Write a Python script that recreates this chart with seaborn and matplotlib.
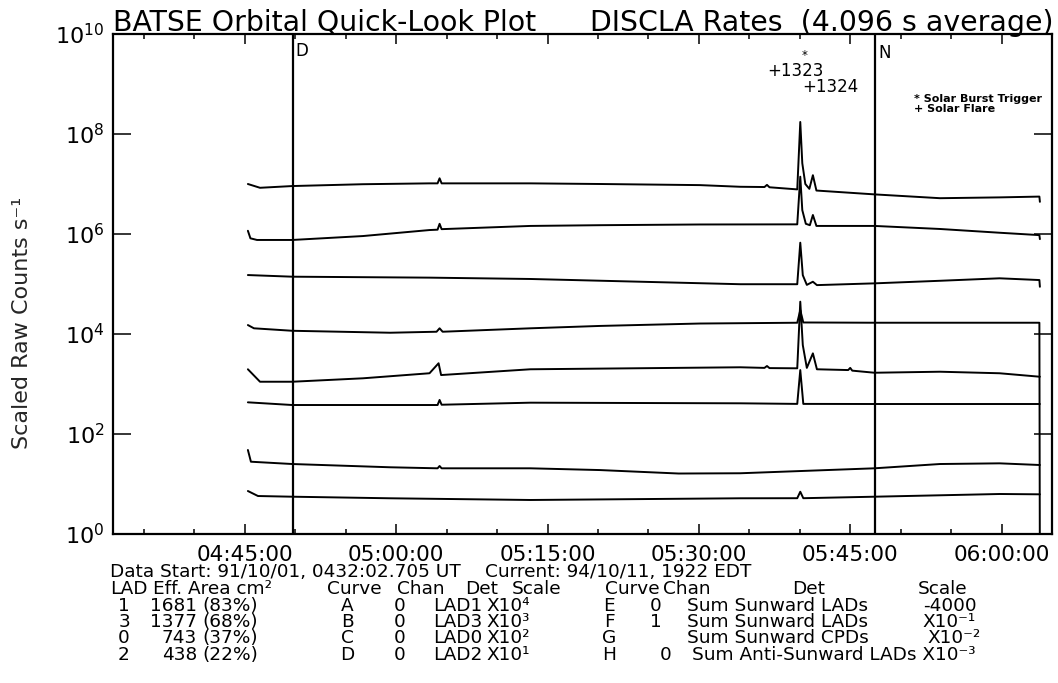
import matplotlib
matplotlib.use("Agg")
import matplotlib.pyplot as plt
from matplotlib.ticker import FixedLocator, FixedFormatter, NullLocator
import pandas as pd
import seaborn as sns

# ---------------------------------------------------------------- data
# time axis: minutes after 04:00:00 UT
time_A = [45.3, 46.5, 49.7, 56.7, 63.3, 64.1, 64.3, 64.5, 73.3, 80.2, 90.1, 94.1, 96.5, 96.75, 97.0,
          99.75, 100.05, 100.25, 100.55, 100.95, 101.3, 101.65, 107.4, 113.9, 119.8, 123.75, 123.8]
rate_A = [1.0e7, 8.4e6, 9.1e6, 9.9e6, 1.03e7, 1.03e7, 1.3e7, 1.03e7, 1.03e7, 1.0e7, 9.5e6, 8.8e6, 8.7e6, 9.6e6, 8.6e6,
          7.8e6, 1.74e8, 2.6e7, 1.0e7, 8.0e6, 1.5e7, 7.4e6, 6.2e6, 5.2e6, 5.4e6, 5.6e6, 4.4e6]

time_B = [45.3, 45.55, 46.2, 49.7, 56.7, 63.3, 64.1, 64.3, 64.5, 73.3, 80.2, 90.1, 99.75, 100.05, 100.25,
          100.6, 101.0, 101.3, 101.65, 107.4, 113.9, 119.8, 123.75, 123.8]
rate_B = [1.16e6, 8.2e5, 7.6e5, 7.6e5, 9.1e5, 1.2e6, 1.22e6, 1.6e6, 1.25e6, 1.45e6, 1.5e6, 1.55e6, 1.56e6, 1.4e7, 3.0e6,
          1.6e6, 1.5e6, 2.4e6, 1.45e6, 1.45e6, 1.26e6, 1.06e6, 9.5e5, 7.9e5]

time_C = [45.3, 49.7, 63.3, 73.3, 94.1, 99.75, 100.05, 100.3, 100.7, 101.3, 101.7, 107.4, 113.9, 119.8, 123.75, 123.8]
rate_C = [1.51e5, 1.4e5, 1.34e5, 1.26e5, 9.9e4, 9.9e4, 6.7e5, 1.5e5, 9.6e4, 1.11e5, 9.5e4, 1.03e5, 1.16e5, 1.3e5, 1.2e5, 8.8e4]

time_D = [45.3, 45.9, 49.7, 59.4, 64.0, 64.3, 64.6, 73.3, 80.2, 90.1, 99.75, 100.05, 100.35, 107.4, 123.75, 123.8]
rate_D = [1.51e4, 1.3e4, 1.16e4, 1.06e4, 1.11e4, 1.3e4, 1.11e4, 1.3e4, 1.45e4, 1.62e4, 1.68e4, 3.0e4, 1.7e4, 1.68e4, 1.68e4, 0.1]

time_E = [45.3, 46.5, 49.7, 56.7, 63.3, 64.2, 64.45, 73.3, 94.1, 96.5, 96.75, 97.0, 99.75, 100.05, 100.3,
          100.7, 101.3, 101.7, 104.8, 105.0, 105.2, 107.4, 113.9, 119.8, 123.75, 123.8]
rate_E = [1.97e3, 1.11e3, 1.11e3, 1.3e3, 1.64e3, 2.6e3, 1.51e3, 1.97e3, 2.16e3, 2.1e3, 2.29e3, 2.08e3, 2.06e3, 4.43e4, 6.0e3,
          2.1e3, 4.1e3, 1.97e3, 1.9e3, 2.1e3, 1.85e3, 1.68e3, 1.76e3, 1.64e3, 1.4e3, 1.4e3]

time_F = [45.3, 49.7, 64.1, 64.3, 64.5, 73.3, 94.1, 99.75, 100.05, 100.35, 107.4, 123.75, 123.8]
rate_F = [4.3e2, 3.8e2, 3.8e2, 4.8e2, 3.85e2, 4.23e2, 4.11e2, 4.0e2, 1.9e3, 4.0e2, 3.98e2, 3.98e2, 3.98e2]

time_G = [45.3, 45.6, 49.7, 59.4, 64.1, 64.3, 64.5, 73.3, 80.2, 88.0, 94.1, 107.4, 113.9, 119.8, 123.75, 123.8]
rate_G = [47.9, 27.9, 25.1, 21.6, 20.6, 22.9, 20.6, 20.6, 19.0, 16.2, 16.4, 20.6, 25.1, 25.9, 24.0, 24.0]

time_H = [45.3, 46.3, 49.7, 59.4, 73.3, 94.1, 99.75, 100.05, 100.35, 107.4, 119.8, 123.75, 123.8]
rate_H = [7.24, 5.75, 5.57, 5.18, 4.79, 5.18, 5.2, 7.0, 5.2, 5.57, 6.31, 6.22, 6.22]

curve_names = ["A", "B", "C", "D", "E", "F", "G", "H"]
curve_times = [time_A, time_B, time_C, time_D, time_E, time_F, time_G, time_H]
curve_rates = [rate_A, rate_B, rate_C, rate_D, rate_E, rate_F, rate_G, rate_H]

# orbit markers: day/night transitions (minutes after 04:00)
day_start = 49.73
night_start = 107.44

# axis ticks
major_ticks = [45, 60, 75, 90, 105, 120]
major_labels = ["04:45:00", "05:00:00", "05:15:00", "05:30:00", "05:45:00", "06:00:00"]
minor_ticks = [35, 40, 50, 55, 65, 70, 80, 85, 95, 100, 110, 115, 125]
y_ticks = [1e0, 1e2, 1e4, 1e6, 1e8, 1e10]
y_labels = ["$10^{0}$", "$10^{2}$", "$10^{4}$", "$10^{6}$", "$10^{8}$", "$10^{10}$"]

# detector table
lad_ids = ["1", "3", "0", "2"]
lad_area = ["1681", "1377", "743", "438"]
lad_pct = ["(83%)", "(68%)", "(37%)", "(22%)"]
left_curves = ["A", "B", "C", "D"]
left_chan = ["0", "0", "0", "0"]
left_det = ["LAD1", "LAD3", "LAD0", "LAD2"]
left_scale = ["X10\u2074", "X10\u00b3", "X10\u00b2", "X10\u00b9"]
right_curves = ["E", "F", "G", "H"]
right_chan = ["0", "1", "", "0"]
right_det = ["Sum Sunward LADs", "Sum Sunward LADs", "Sum Sunward CPDs", "Sum Anti-Sunward LADs X10\u207b\u00b3"]
right_scale = ["-4000", "X10\u207b\u00b9", "X10\u207b\u00b2", ""]

# ---------------------------------------------------------------- style
sns.set_theme(style="white")
plt.rcParams["font.family"] = ["DejaVu Sans"]
plt.rcParams["mathtext.fontset"] = "dejavusans"
plt.rcParams["text.color"] = "black"
plt.rcParams["axes.edgecolor"] = "black"
plt.rcParams["xtick.color"] = "black"
plt.rcParams["ytick.color"] = "black"

W, H = 1058, 683
fig = plt.figure(figsize=(W / 100, H / 100), dpi=100)
fig.patch.set_facecolor("white")
ax_l, ax_r, ax_t, ax_b = 112.7, 1052.0, 34.0, 534.0
ax = fig.add_axes([ax_l / W, 1 - ax_b / H, (ax_r - ax_l) / W, (ax_b - ax_t) / H])
ax.set_facecolor("white")


def fx(px):
    return px / W


def fy(py):
    return 1 - py / H


frames = []
for name, t, r in zip(curve_names, curve_times, curve_rates):
    frames.append(pd.DataFrame({"time": t, "rate": r, "curve": name}))
df = pd.concat(frames, ignore_index=True)

ax.set_yscale("log")
sns.lineplot(data=df, x="time", y="rate", hue="curve", units="curve", estimator=None, sort=False,
             palette={n: "black" for n in curve_names}, linewidth=1.4, legend=False, ax=ax)

ax.axvline(day_start, color="black", lw=1.6)
ax.axvline(night_start, color="black", lw=1.6)

ax.set_xlim(31.9, 125.0)
ax.set_ylim(1e0, 1e10)

ax.xaxis.set_major_locator(FixedLocator(major_ticks))
ax.xaxis.set_major_formatter(FixedFormatter(major_labels))
ax.xaxis.set_minor_locator(FixedLocator(minor_ticks))
ax.yaxis.set_major_locator(FixedLocator(y_ticks))
ax.yaxis.set_major_formatter(FixedFormatter(y_labels))
ax.yaxis.set_minor_locator(NullLocator())

ax.tick_params(axis="x", which="major", direction="in", length=7.2, width=1.1, top=True, bottom=True,
               labelsize=15.5, pad=8)
ax.tick_params(axis="x", which="minor", direction="in", length=3.6, width=1.1, top=True, bottom=True)
ax.tick_params(axis="y", which="major", direction="in", length=13, width=1.1, left=True, right=True,
               labelsize=16, pad=6)
for s in ax.spines.values():
    s.set_linewidth(1.6)
    s.set_color("black")
ax.set_xlabel("")
ax.set_ylabel("Scaled Raw Counts s\u207b\u00b9", fontsize=16)
ax.yaxis.set_label_coords((32 - ax_l) / (ax_r - ax_l), (ax_b - 323) / (ax_b - ax_t))

# day / night letters
fig.text(fx(295), fy(51), "D", fontsize=12, ha="left", va="center")
fig.text(fx(878), fy(53), "N", fontsize=12, ha="left", va="center")

# burst annotations
fig.text(fx(805), fy(55.5), "*", fontsize=8.5, ha="center", va="center")
fig.text(fx(767), fy(71.5), "+1323", fontsize=12, ha="left", va="center")
fig.text(fx(802), fy(86.5), "+1324", fontsize=12, ha="left", va="center")
fig.text(fx(914), fy(104), "* Solar Burst Trigger\n+ Solar Flare", fontsize=8, fontweight="bold",
         ha="left", va="center", linespacing=0.95)

# titles
fig.text(fx(113), fy(31), "BATSE Orbital Quick-Look Plot", fontsize=20.4, ha="left", va="baseline")
fig.text(fx(1053), fy(31), "DISCLA Rates  (4.096 s average)", fontsize=20.4, ha="right", va="baseline")

# information block beneath the axis
fs = 13.3
fig.text(fx(110), fy(577), "Data Start: 91/10/01, 0432:02.705 UT", fontsize=fs, va="baseline")
fig.text(fx(485), fy(577), "Current: 94/10/11, 1922 EDT", fontsize=fs, va="baseline")

hdr_y = 594
for x, s in [(110, "LAD"), (153, "Eff. Area cm\u00b2"), (327, "Curve"), (397, "Chan"), (465, "Det"),
             (512, "Scale"), (605, "Curve"), (663, "Chan"), (792, "Det"), (918, "Scale")]:
    fig.text(fx(x), fy(hdr_y), s, fontsize=fs, va="baseline")

row_y = [611, 627, 643, 660]
chan_x = [656, 656, 656, 666]
det_x = [687, 687, 687, 692]
scale_x = [923, 922, 927, 0]
for i, y in enumerate(row_y):
    fig.text(fx(124), fy(y), lad_ids[i], fontsize=fs, va="baseline", ha="center")
    fig.text(fx(197), fy(y), lad_area[i], fontsize=fs, va="baseline", ha="right")
    fig.text(fx(202), fy(y), lad_pct[i], fontsize=fs, va="baseline", ha="left")
    fig.text(fx(347), fy(y), left_curves[i], fontsize=fs, va="baseline", ha="center")
    fig.text(fx(400), fy(y), left_chan[i], fontsize=fs, va="baseline", ha="center")
    fig.text(fx(433), fy(y), left_det[i], fontsize=fs, va="baseline", ha="left")
    fig.text(fx(486), fy(y), left_scale[i], fontsize=fs, va="baseline", ha="left")
    fig.text(fx(609), fy(y), right_curves[i], fontsize=fs, va="baseline", ha="center")
    if right_chan[i]:
        fig.text(fx(chan_x[i]), fy(y), right_chan[i], fontsize=fs, va="baseline", ha="center")
    fig.text(fx(det_x[i]), fy(y), right_det[i], fontsize=fs, va="baseline", ha="left")
    if right_scale[i]:
        fig.text(fx(scale_x[i]), fy(y), right_scale[i], fontsize=fs, va="baseline", ha="left")

fig.savefig("out.png", dpi=100, facecolor="white")
